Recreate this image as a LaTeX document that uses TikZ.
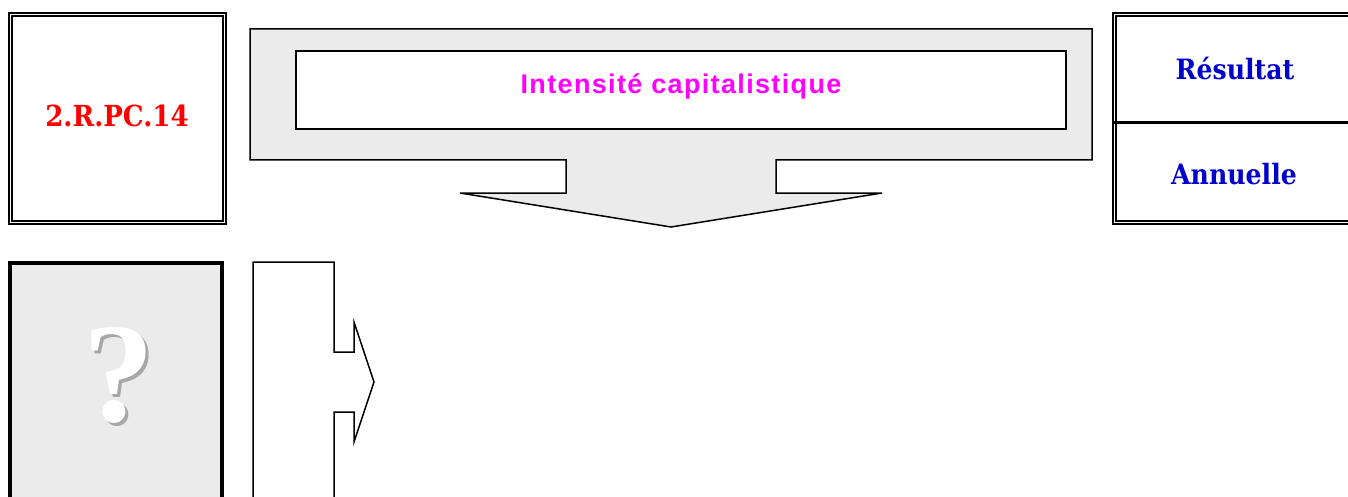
\documentclass[tikz,border=0pt]{standalone}
\usepackage{fontspec}
\usetikzlibrary{positioning, calc}
\newfontfamily\codefont[FakeStretch=0.9]{DejaVu Serif}
\newfontfamily\titlefont[LetterSpace=5]{Liberation Sans}
\newfontfamily\markfont{Liberation Serif}
\definecolor{panelgray}{HTML}{EBEBEB}
\definecolor{codered}{HTML}{FF0000}
\definecolor{periodblue}{HTML}{0000CC}
\definecolor{titlemagenta}{HTML}{FF00FF}
\definecolor{shadowgray}{HTML}{A6A6A6}
% question mark with its drop shadow
\newcommand{\shadowmark}{%
  \makebox[0pt][l]{\kern3pt\raisebox{-3pt}{\color{shadowgray}?}}?}
\tikzset{
    dblbox/.style={
        draw,
        double,
        line width=1.5pt,
        double distance=1.8pt,
        inner sep=0pt
    },
    querybox/.style={
        draw,
        fill=panelgray,
        line width=3.5pt,
        minimum width=212pt,
        minimum height=260pt,
        inner sep=0pt
    },
    titlebox/.style={
        draw,
        fill=white,
        line width=1.5pt,
        minimum width=770pt,
        minimum height=78pt
    },
    bigarrow/.style={draw, fill=panelgray, line width=1.5pt, line join=miter},
    sidearrow/.style={draw, fill=white, line width=1.5pt, line join=miter},
    codetext/.style={font=\codefont\bfseries\fontsize{29}{32}\selectfont, text=codered, anchor=base},
    periodtext/.style={font=\codefont\bfseries\fontsize{28}{32}\selectfont, text=periodblue, anchor=base},
    titletext/.style={font=\titlefont\bfseries\fontsize{27}{30}\selectfont, text=titlemagenta, anchor=base},
    marktext/.style={font=\markfont\bfseries\fontsize{142}{150}\selectfont, text=white, anchor=base}
}
\begin{document}
\begin{tikzpicture}[x=1pt, y=-1pt]
\useasboundingbox (0,0) rectangle (1348,497);
\clip (0,0) rectangle (1348,497);

% code box
\node[dblbox, minimum width=214pt, minimum height=208pt] (code) at (117.5,118.5) {};
\node[codetext] (codelbl) at (117,127) {2.R.PC.14};

% title arrow
\draw[bigarrow] (250,29) -- (1092,29) -- (1092,160) -- (776,160) -- (776,193)
    -- (882,193) -- (671,227) -- (460,193) -- (566,193) -- (566,160) -- (250,160) -- cycle;
\node[titlebox] (title) at (681,90) {};
\node[titletext] (titlelbl) at (681,94) {Intensité capitalistique};

% period box
\node[dblbox, minimum width=245.5pt, minimum height=208pt] (period) at (1237.25,118.5) {};
\draw[line width=3pt] (period.west |- 0,123) -- (period.east |- 0,123);
\node[periodtext] (result) at (1235,80) {Résultat};
\node[periodtext] (annual) at (1234,185) {Annuelle};

% query box
\node[querybox] (query) at (116,393) {};
\node[marktext] (mark) at (119,421) {\shadowmark};

% side arrow
\draw[sidearrow] (253,262) -- (334,262) -- (334,352) -- (354,352) -- (354,322)
    -- (374,382) -- (354,442) -- (354,412) -- (334,412) -- (334,510) -- (253,510) -- cycle;
\end{tikzpicture}
\end{document}
